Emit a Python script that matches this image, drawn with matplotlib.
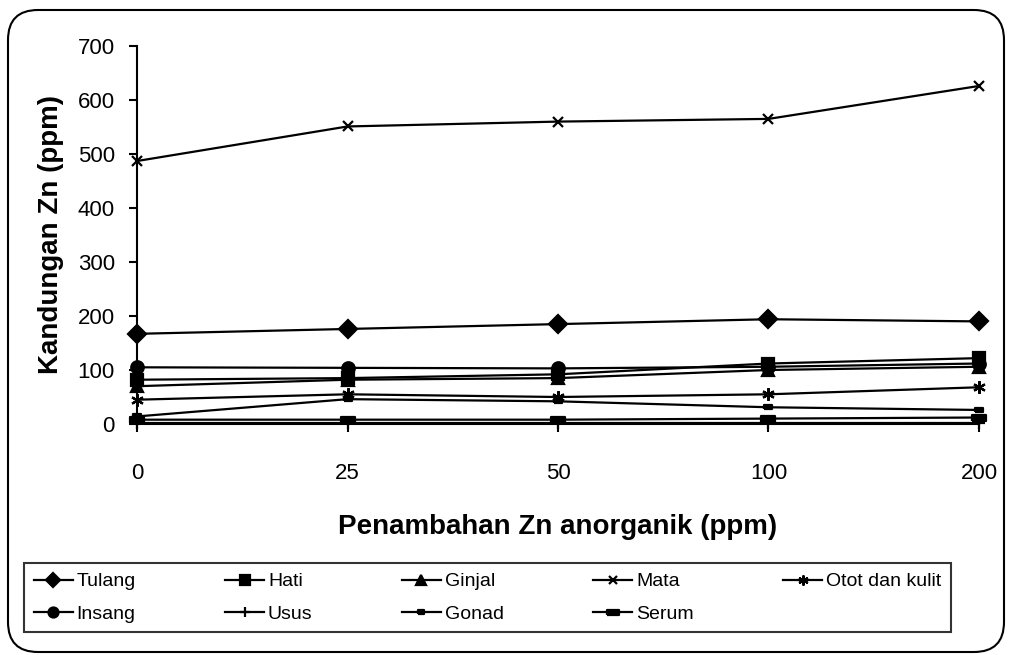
import matplotlib
matplotlib.use('Agg')
import matplotlib.pyplot as plt
from matplotlib.patches import FancyBboxPatch
import numpy as np

plt.rcParams['font.family'] = ['Liberation Sans', 'DejaVu Sans']

# data
doses = ['0', '25', '50', '100', '200']
tulang = [167, 176, 185, 194, 190]
hati = [82, 85, 92, 112, 122]
ginjal = [70, 82, 85, 100, 106]
mata = [487, 551, 560, 565, 626]
otot = [45, 55, 50, 55, 68]
insang = [105, 104, 103, 106, 112]
usus = [2, 2, 2, 2, 2]
gonad = [14, 46, 42, 31, 26]
serum = [8, 8, 8, 10, 12]

bar_small = [(-1, -0.45), (1, -0.45), (1, 0.45), (-1, 0.45), (-1, -0.45)]
series = [
    ('Tulang', tulang, 'D', 9),
    ('Hati', hati, 's', 9),
    ('Ginjal', ginjal, '^', 9),
    ('Mata', mata, 'x', 7),
    ('Otot dan kulit', otot, (6, 2, 0), 9),
    ('Insang', insang, 'o', 9),
    ('Usus', usus, '+', 9),
    ('Gonad', gonad, bar_small, 6),
    ('Serum', serum, bar_small, 10),
]

fig = plt.figure(figsize=(10.09, 6.55), dpi=100)
ax = fig.add_axes([137/1009, 1-424/655, (979-137)/1009, (424-46)/655])

x = np.arange(len(doses))
lines = []
for name, vals, mk, ms in series:
    ln, = ax.plot(x, vals, color='black', linewidth=1.6, marker=mk, markersize=ms,
                  markeredgewidth=1.6, label=name, clip_on=False)
    lines.append(ln)

ax.set_xlim(0, len(doses)-1)
ax.set_ylim(0, 700)
ax.set_yticks(range(0, 701, 100))
ax.set_xticks(x)
ax.set_xticklabels(doses)
ax.spines[['right', 'top']].set_visible(False)
for side in ['bottom', 'left']:
    ax.spines[side].set_linewidth(1.5)
ax.tick_params(axis='both', width=1.5, length=6, labelsize=16)
ax.tick_params(axis='x', pad=22)
ax.tick_params(axis='y', pad=10)

ax.set_xlabel('Penambahan Zn anorganik (ppm)', fontsize=20, fontweight='bold', labelpad=22)
ax.set_ylabel('Kandungan Zn (ppm)', fontsize=20, fontweight='bold', labelpad=10)

# legend fills row by row like the original: reorder for matplotlib's column fill
order = [0, 5, 1, 6, 2, 7, 3, 8, 4]
leg = fig.legend([lines[i] for i in order], [series[i][0] for i in order],
                 loc='upper left', bbox_to_anchor=(24/1009, 1-563/655), ncol=5,
                 fontsize=14, frameon=True, fancybox=False, edgecolor='black',
                 handlelength=2.0, handletextpad=0.2, columnspacing=4.6,
                 labelspacing=0.75, borderpad=0.5, borderaxespad=0, markerscale=0.8)
leg.get_frame().set_linewidth(1.5)

border = FancyBboxPatch((0.08, 0.03), 9.96, 6.42, boxstyle='round,pad=0,rounding_size=0.3',
                        transform=fig.dpi_scale_trans, facecolor='none',
                        edgecolor='black', linewidth=1.5)
fig.patches.append(border)

fig.savefig('out.png', dpi=100)
